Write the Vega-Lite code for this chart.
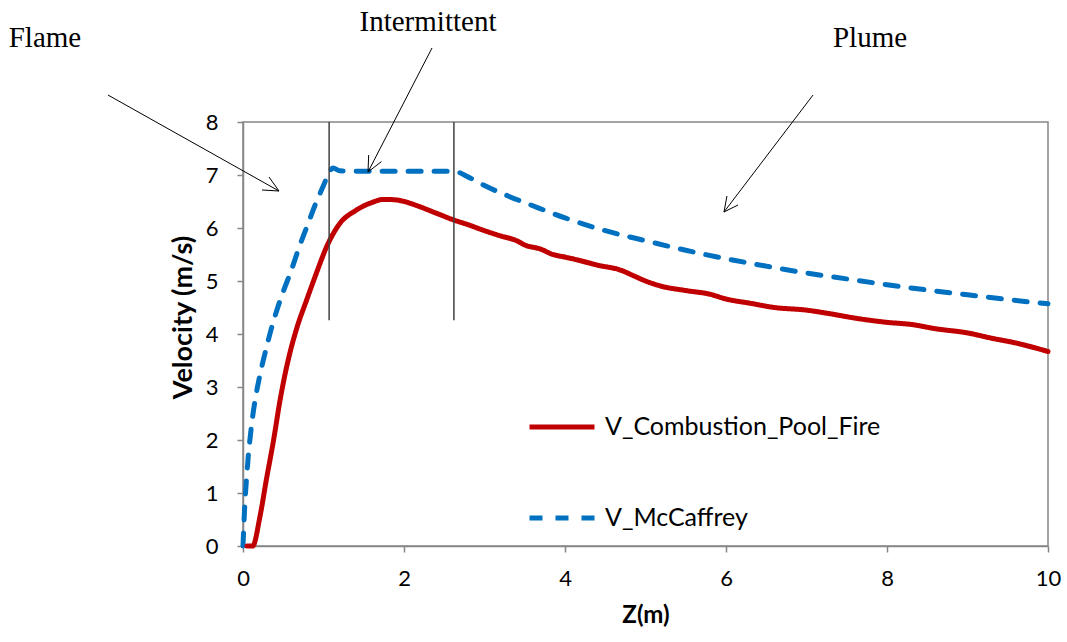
{
  "$schema": "https://vega.github.io/schema/vega-lite/v6.json",
  "width": 805,
  "height": 424,
  "autosize": {"type": "none"},
  "padding": {"left": 243, "top": 122, "right": 19, "bottom": 96},
  "background": "white",
  "config": {
    "view": {"stroke": "#868686", "strokeWidth": 1.5},
    "font": "Lato"
  },
  "datasets": {
    "series": [
      {"z": 0, "v": 0, "s": "V_McCaffrey"},
      {"z": 0.02, "v": 0.7, "s": "V_McCaffrey"},
      {"z": 0.05, "v": 1.4, "s": "V_McCaffrey"},
      {"z": 0.1, "v": 2.2, "s": "V_McCaffrey"},
      {"z": 0.15, "v": 2.75, "s": "V_McCaffrey"},
      {"z": 0.2, "v": 3.15, "s": "V_McCaffrey"},
      {"z": 0.3, "v": 3.8, "s": "V_McCaffrey"},
      {"z": 0.4, "v": 4.35, "s": "V_McCaffrey"},
      {"z": 0.5, "v": 4.8, "s": "V_McCaffrey"},
      {"z": 0.6, "v": 5.2, "s": "V_McCaffrey"},
      {"z": 0.7, "v": 5.65, "s": "V_McCaffrey"},
      {"z": 0.8, "v": 6.05, "s": "V_McCaffrey"},
      {"z": 0.9, "v": 6.45, "s": "V_McCaffrey"},
      {"z": 1.0, "v": 6.8, "s": "V_McCaffrey"},
      {"z": 1.07, "v": 7.05, "s": "V_McCaffrey"},
      {"z": 1.12, "v": 7.13, "s": "V_McCaffrey"},
      {"z": 1.2, "v": 7.08, "s": "V_McCaffrey"},
      {"z": 1.5, "v": 7.07, "s": "V_McCaffrey"},
      {"z": 2.0, "v": 7.07, "s": "V_McCaffrey"},
      {"z": 2.62, "v": 7.07, "s": "V_McCaffrey"},
      {"z": 2.8, "v": 6.96, "s": "V_McCaffrey"},
      {"z": 3.0, "v": 6.8, "s": "V_McCaffrey"},
      {"z": 3.3, "v": 6.6, "s": "V_McCaffrey"},
      {"z": 3.6, "v": 6.42, "s": "V_McCaffrey"},
      {"z": 4.0, "v": 6.19, "s": "V_McCaffrey"},
      {"z": 4.5, "v": 5.95, "s": "V_McCaffrey"},
      {"z": 5.0, "v": 5.76, "s": "V_McCaffrey"},
      {"z": 5.5, "v": 5.58, "s": "V_McCaffrey"},
      {"z": 6.0, "v": 5.42, "s": "V_McCaffrey"},
      {"z": 6.5, "v": 5.28, "s": "V_McCaffrey"},
      {"z": 7.0, "v": 5.15, "s": "V_McCaffrey"},
      {"z": 7.5, "v": 5.04, "s": "V_McCaffrey"},
      {"z": 8.0, "v": 4.93, "s": "V_McCaffrey"},
      {"z": 8.5, "v": 4.83, "s": "V_McCaffrey"},
      {"z": 9.0, "v": 4.74, "s": "V_McCaffrey"},
      {"z": 9.5, "v": 4.65, "s": "V_McCaffrey"},
      {"z": 10, "v": 4.57, "s": "V_McCaffrey"},
      {"z": 0.05, "v": 0, "s": "V_Combustion_Pool_Fire"},
      {"z": 0.12, "v": 0, "s": "V_Combustion_Pool_Fire"},
      {"z": 0.21, "v": 0.55, "s": "V_Combustion_Pool_Fire"},
      {"z": 0.29, "v": 1.25, "s": "V_Combustion_Pool_Fire"},
      {"z": 0.38, "v": 2.0, "s": "V_Combustion_Pool_Fire"},
      {"z": 0.46, "v": 2.75, "s": "V_Combustion_Pool_Fire"},
      {"z": 0.56, "v": 3.5, "s": "V_Combustion_Pool_Fire"},
      {"z": 0.67, "v": 4.12, "s": "V_Combustion_Pool_Fire"},
      {"z": 0.79, "v": 4.64, "s": "V_Combustion_Pool_Fire"},
      {"z": 0.9, "v": 5.1, "s": "V_Combustion_Pool_Fire"},
      {"z": 1.04, "v": 5.65, "s": "V_Combustion_Pool_Fire"},
      {"z": 1.2, "v": 6.08, "s": "V_Combustion_Pool_Fire"},
      {"z": 1.4, "v": 6.33, "s": "V_Combustion_Pool_Fire"},
      {"z": 1.6, "v": 6.48, "s": "V_Combustion_Pool_Fire"},
      {"z": 1.75, "v": 6.54, "s": "V_Combustion_Pool_Fire"},
      {"z": 1.9, "v": 6.53, "s": "V_Combustion_Pool_Fire"},
      {"z": 2.0, "v": 6.5, "s": "V_Combustion_Pool_Fire"},
      {"z": 2.2, "v": 6.4, "s": "V_Combustion_Pool_Fire"},
      {"z": 2.4, "v": 6.28, "s": "V_Combustion_Pool_Fire"},
      {"z": 2.62, "v": 6.15, "s": "V_Combustion_Pool_Fire"},
      {"z": 2.8, "v": 6.06, "s": "V_Combustion_Pool_Fire"},
      {"z": 3.0, "v": 5.95, "s": "V_Combustion_Pool_Fire"},
      {"z": 3.2, "v": 5.85, "s": "V_Combustion_Pool_Fire"},
      {"z": 3.4, "v": 5.76, "s": "V_Combustion_Pool_Fire"},
      {"z": 3.5, "v": 5.68, "s": "V_Combustion_Pool_Fire"},
      {"z": 3.7, "v": 5.6, "s": "V_Combustion_Pool_Fire"},
      {"z": 3.85, "v": 5.5, "s": "V_Combustion_Pool_Fire"},
      {"z": 4.0, "v": 5.45, "s": "V_Combustion_Pool_Fire"},
      {"z": 4.2, "v": 5.38, "s": "V_Combustion_Pool_Fire"},
      {"z": 4.4, "v": 5.3, "s": "V_Combustion_Pool_Fire"},
      {"z": 4.7, "v": 5.2, "s": "V_Combustion_Pool_Fire"},
      {"z": 4.85, "v": 5.1, "s": "V_Combustion_Pool_Fire"},
      {"z": 5.0, "v": 5.0, "s": "V_Combustion_Pool_Fire"},
      {"z": 5.2, "v": 4.9, "s": "V_Combustion_Pool_Fire"},
      {"z": 5.5, "v": 4.82, "s": "V_Combustion_Pool_Fire"},
      {"z": 5.8, "v": 4.75, "s": "V_Combustion_Pool_Fire"},
      {"z": 6.0, "v": 4.66, "s": "V_Combustion_Pool_Fire"},
      {"z": 6.3, "v": 4.58, "s": "V_Combustion_Pool_Fire"},
      {"z": 6.6, "v": 4.5, "s": "V_Combustion_Pool_Fire"},
      {"z": 7.0, "v": 4.45, "s": "V_Combustion_Pool_Fire"},
      {"z": 7.3, "v": 4.38, "s": "V_Combustion_Pool_Fire"},
      {"z": 7.6, "v": 4.3, "s": "V_Combustion_Pool_Fire"},
      {"z": 8.0, "v": 4.22, "s": "V_Combustion_Pool_Fire"},
      {"z": 8.3, "v": 4.18, "s": "V_Combustion_Pool_Fire"},
      {"z": 8.6, "v": 4.1, "s": "V_Combustion_Pool_Fire"},
      {"z": 9.0, "v": 4.02, "s": "V_Combustion_Pool_Fire"},
      {"z": 9.3, "v": 3.92, "s": "V_Combustion_Pool_Fire"},
      {"z": 9.6, "v": 3.83, "s": "V_Combustion_Pool_Fire"},
      {"z": 10, "v": 3.67, "s": "V_Combustion_Pool_Fire"}
    ],
    "bounds": [
      {"z": 1.07, "y1": 4.26, "y2": 8},
      {"z": 2.62, "y1": 4.26, "y2": 8}
    ],
    "arrows": [
      {"x1": -1.677, "y1": 8.509, "x2": 0.447, "y2": 6.698},
      {"x1": 0.447, "y1": 6.698, "x2": 0.323, "y2": 6.962},
      {"x1": 0.447, "y1": 6.698, "x2": 0.236, "y2": 6.717},
      {"x1": 2.348, "y1": 9.396, "x2": 1.553, "y2": 7.057},
      {"x1": 1.553, "y1": 7.057, "x2": 1.72, "y2": 7.253},
      {"x1": 1.553, "y1": 7.057, "x2": 1.561, "y2": 7.377},
      {"x1": 7.081, "y1": 8.509, "x2": 5.975, "y2": 6.302},
      {"x1": 5.975, "y1": 6.302, "x2": 6.149, "y2": 6.434},
      {"x1": 5.975, "y1": 6.302, "x2": 6.012, "y2": 6.604}
    ],
    "labels": [
      {"x": -2.46, "y": 9.585, "t": "Flame"},
      {"x": 2.298, "y": 9.887, "t": "Intermittent"},
      {"x": 7.789, "y": 9.585, "t": "Plume"}
    ]
  },
  "layer": [
    {
      "data": {"name": "series"},
      "mark": {"type": "line", "strokeWidth": 5, "strokeCap": "round", "interpolate": "monotone", "clip": false},
      "encoding": {
        "x": {
          "field": "z", "type": "quantitative",
          "scale": {"domain": [0, 10], "nice": false},
          "axis": {
            "title": "Z(m)", "titleFont": "Lato", "titleFontSize": 24, "titleFontWeight": "bold", "titleColor": "black",
            "titlePadding": 14,
            "values": [0, 2, 4, 6, 8, 10], "format": "d", "grid": false, "labelFlush": false,
            "labelFont": "Lato", "labelFontSize": 22, "labelColor": "black", "labelPadding": 16,
            "tickSize": 6, "tickColor": "#868686", "domainColor": "#868686", "domainWidth": 1.5, "tickWidth": 1.5
          }
        },
        "y": {
          "field": "v", "type": "quantitative",
          "scale": {"domain": [0, 8], "nice": false},
          "axis": {
            "title": "Velocity (m/s)", "titleFont": "Lato", "titleFontSize": 27, "titleFontWeight": "bold", "titleColor": "black",
            "titleX": -60, "titleY": 195, "titleAngle": -90, "titleAlign": "center", "titleBaseline": "middle",
            "values": [0, 1, 2, 3, 4, 5, 6, 7, 8], "grid": false, "labelFlush": false,
            "labelFont": "Lato", "labelFontSize": 22, "labelColor": "black", "labelPadding": 19,
            "tickSize": 6, "tickColor": "#868686", "domainColor": "#868686", "domainWidth": 1.5, "tickWidth": 1.5
          }
        },
        "color": {
          "field": "s", "type": "nominal",
          "scale": {"domain": ["V_Combustion_Pool_Fire", "V_McCaffrey"], "range": ["#C00000", "#0070C0"]},
          "legend": {
            "title": null, "orient": "none", "legendX": 284, "legendY": 270,
            "symbolType": "stroke", "symbolSize": 4225, "symbolStrokeWidth": 5,
            "labelFont": "Lato", "labelFontSize": 25, "labelColor": "black", "labelOffset": 8,
            "rowPadding": 43, "labelLimit": 400
          }
        },
        "strokeDash": {
          "field": "s", "type": "nominal",
          "scale": {"domain": ["V_Combustion_Pool_Fire", "V_McCaffrey"], "range": [[1, 0], [13, 13]]},
          "legend": null
        }
      }
    },
    {
      "data": {"name": "bounds"},
      "mark": {"type": "rule", "color": "#404040", "strokeWidth": 1.5},
      "encoding": {
        "x": {"field": "z", "type": "quantitative"},
        "y": {"field": "y1", "type": "quantitative"},
        "y2": {"field": "y2"}
      }
    },
    {
      "data": {"name": "arrows"},
      "mark": {"type": "rule", "color": "black", "strokeWidth": 1, "clip": false},
      "encoding": {
        "x": {"field": "x1", "type": "quantitative"},
        "y": {"field": "y1", "type": "quantitative"},
        "x2": {"field": "x2"},
        "y2": {"field": "y2"}
      }
    },
    {
      "data": {"name": "labels"},
      "mark": {"type": "text", "font": "Liberation Serif", "fontSize": 29, "color": "black", "align": "center", "baseline": "middle", "clip": false},
      "encoding": {
        "x": {"field": "x", "type": "quantitative"},
        "y": {"field": "y", "type": "quantitative"},
        "text": {"field": "t"}
      }
    }
  ]
}
